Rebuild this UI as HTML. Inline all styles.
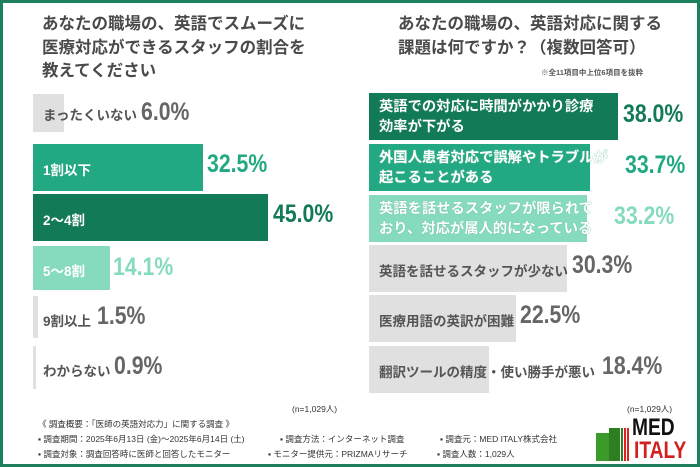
<!DOCTYPE html>
<html><head><meta charset="utf-8"><style>
*{margin:0;padding:0;box-sizing:border-box}
body{width:700px;height:467px;overflow:hidden;background:#fff;font-family:"Liberation Sans","Noto Sans CJK JP",sans-serif;position:relative}
.frame{position:absolute;left:0;top:0;width:700px;height:467px;border:3px solid #1e7f5c}
.a{position:absolute;white-space:nowrap}
.t{font-size:16.5px;font-weight:bold;color:#4a4a4a;line-height:23.5px}
.bar{position:absolute;height:47px}
.lb{position:absolute;font-size:13.5px;font-weight:bold;white-space:nowrap}
.rl{font-size:14.3px;line-height:20px;color:#fff;text-shadow:0 0 1px #6fbfa5,0 0 1px #6fbfa5}
.v{position:absolute;font-family:"Liberation Sans Narrow","Liberation Sans",sans-serif;font-weight:bold;font-size:25px;white-space:nowrap;transform:scaleX(0.85);transform-origin:left center}
.f{position:absolute;font-size:8.5px;color:#333;white-space:nowrap}
</style></head><body>
<div class="frame"></div>
<div class="a t" style="left:42px;top:13px">あなたの職場の、英語でスムーズに<br>医療対応ができるスタッフの割合を<br>教えてください</div>
<div class="a t" style="left:398px;top:13px">あなたの職場の、英語対応に関する<br>課題は何ですか？（複数回答可）</div>
<div class="a" style="left:541px;top:67px;font-size:7.5px;font-weight:bold;color:#555">※全11項目中上位6項目を抜粋</div>

<!-- left -->
<div class="bar" style="left:33px;top:94px;width:31px;height:38px;background:#e0e0e0"></div>
<div class="lb" style="left:43px;top:104px;color:#555">まったくいない</div>
<div class="v" style="left:141px;top:98px;color:#666">6.0%</div>

<div class="bar" style="left:33px;top:144px;width:170px;background:#22a882"></div>
<div class="lb" style="left:43px;top:159px;color:#fff">1割以下</div>
<div class="v" style="left:207px;top:150px;color:#22a882">32.5%</div>

<div class="bar" style="left:33px;top:194px;width:235px;background:#137a57"></div>
<div class="lb" style="left:43px;top:209px;color:#fff">2～4割</div>
<div class="v" style="left:273px;top:200px;color:#137a57">45.0%</div>

<div class="bar" style="left:33px;top:246px;width:77px;height:44px;background:#86dbbf"></div>
<div class="lb" style="left:43px;top:260px;color:#fff">5～8割</div>
<div class="v" style="left:113px;top:253px;color:#86dbbf">14.1%</div>

<div class="bar" style="left:33px;top:296px;width:5px;height:42px;background:#e0e0e0"></div>
<div class="lb" style="left:43px;top:310px;color:#555">9割以上</div>
<div class="v" style="left:97px;top:302px;color:#666">1.5%</div>

<div class="bar" style="left:33px;top:346px;width:3px;height:43px;background:#e0e0e0"></div>
<div class="lb" style="left:43px;top:360px;color:#555">わからない</div>
<div class="v" style="left:114px;top:352px;color:#666">0.9%</div>

<!-- right -->
<div class="bar" style="left:369px;top:93px;width:249px;background:#137a57"></div>
<div class="lb rl" style="left:379px;top:97px;text-shadow:none">英語での対応に時間がかかり診療<br>効率が下がる</div>
<div class="v" style="left:623px;top:100px;color:#137a57">38.0%</div>

<div class="bar" style="left:369px;top:144px;width:221px;background:#22a882"></div>
<div class="lb rl" style="left:379px;top:148px">外国人患者対応で誤解やトラブルが<br>起こることがある</div>
<div class="v" style="left:625px;top:151px;color:#22a882">33.7%</div>

<div class="bar" style="left:369px;top:195px;width:218px;background:#86dbbf"></div>
<div class="lb rl" style="left:379px;top:199px">英語を話せるスタッフが限られて<br>おり、対応が属人的になっている</div>
<div class="v" style="left:614px;top:202px;color:#86dbbf">33.2%</div>

<div class="bar" style="left:369px;top:245px;width:198px;background:#e0e0e0"></div>
<div class="lb" style="left:379px;top:260px;color:#555">英語を話せるスタッフが少ない</div>
<div class="v" style="left:572px;top:251px;color:#666">30.3%</div>

<div class="bar" style="left:369px;top:295px;width:147px;background:#e0e0e0"></div>
<div class="lb" style="left:379px;top:310px;color:#555">医療用語の英訳が困難</div>
<div class="v" style="left:520px;top:301px;color:#666">22.5%</div>

<div class="bar" style="left:369px;top:346px;width:120px;background:#e0e0e0"></div>
<div class="lb" style="left:379px;top:361px;color:#555">翻訳ツールの精度・使い勝手が悪い</div>
<div class="v" style="left:602px;top:352px;color:#666">18.4%</div>

<div class="f" style="left:292px;top:403px">(n=1,029人)</div>
<div class="f" style="left:627px;top:403px">(n=1,029人)</div>
<div class="f" style="left:38px;top:418px">《 調査概要：「医師の英語対応力」に関する調査 》</div>
<div class="f" style="left:38px;top:433px">▪ 調査期間：2025年6月13日 (金)～2025年6月14日 (土)</div>
<div class="f" style="left:280px;top:433px">▪ 調査方法：インターネット調査</div>
<div class="f" style="left:440px;top:433px">▪ 調査元：MED ITALY株式会社</div>
<div class="f" style="left:38px;top:448px">▪ 調査対象：調査回答時に医師と回答したモニター</div>
<div class="f" style="left:268px;top:448px">▪ モニター提供元：PRIZMAリサーチ</div>
<div class="f" style="left:437px;top:448px">▪ 調査人数：1,029人</div>

<!-- logo -->
<div class="a" style="left:596px;top:433px;width:13px;height:28px;background:#3a9a2a"></div>
<div class="a" style="left:609px;top:428px;width:11px;height:33px;background:#2d7f22"></div>
<div class="a" style="left:621px;top:428px;width:2px;height:33px;background:#2d7f22"></div>
<div class="a" style="left:624px;top:428px;width:2px;height:33px;background:#d22"></div>
<div class="a" style="left:627px;top:428px;width:2px;height:33px;background:#d22"></div>
<div class="a" style="left:632px;top:417px;font-family:'Liberation Sans Narrow','Liberation Sans',sans-serif;font-weight:bold;font-size:24px;line-height:22px;color:#111;transform:scaleX(0.8);transform-origin:left top">MED</div>
<div class="a" style="left:634px;top:440px;font-family:'Liberation Sans Narrow','Liberation Sans',sans-serif;font-weight:bold;font-size:24px;line-height:22px;color:#d21f1f;transform:scaleX(0.8);transform-origin:left top">ITALY</div>
</body></html>
